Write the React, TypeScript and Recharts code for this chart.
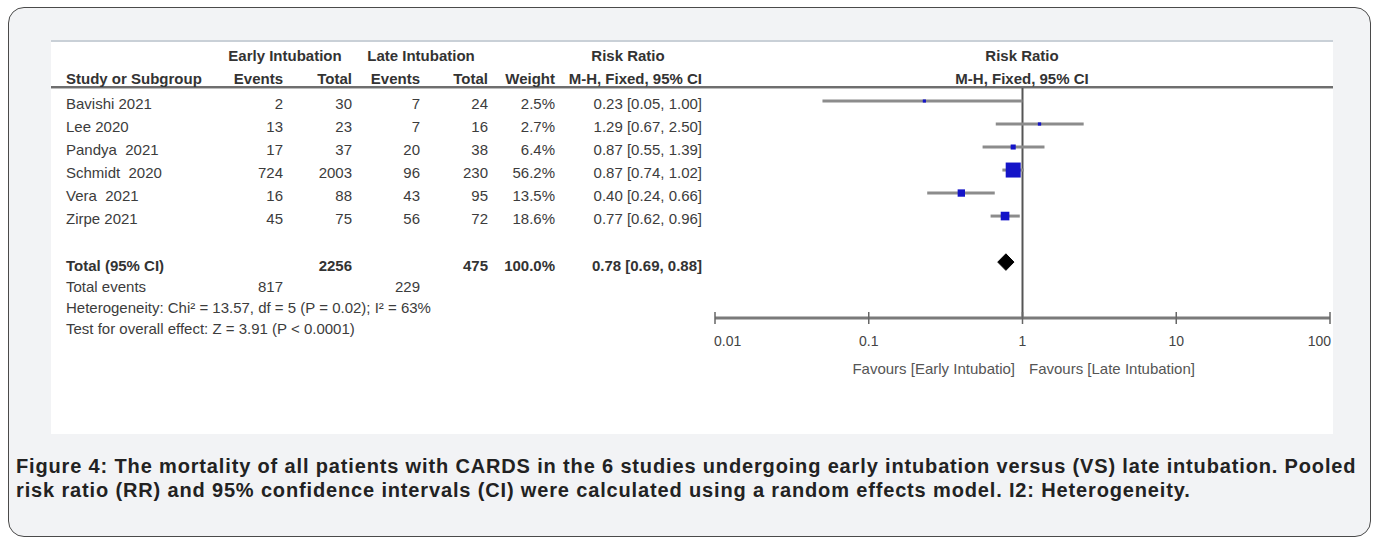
import React from "react";
import { ComposedChart, ReferenceLine, Scatter, XAxis, YAxis, ZAxis } from "recharts";

const studies = ["Bavishi 2021", "Lee 2020", "Pandya  2021", "Schmidt  2020", "Vera  2021", "Zirpe 2021"];
const earlyEvents = [2, 13, 17, 724, 16, 45];
const earlyTotal = [30, 23, 37, 2003, 88, 75];
const lateEvents = [7, 7, 20, 96, 43, 56];
const lateTotal = [24, 16, 38, 230, 95, 72];
const weights = [2.5, 2.7, 6.4, 56.2, 13.5, 18.6];
const riskRatio = [0.23, 1.29, 0.87, 0.87, 0.4, 0.77];
const ciLow = [0.05, 0.67, 0.55, 0.74, 0.24, 0.62];
const ciHigh = [1.0, 2.5, 1.39, 1.02, 0.66, 0.96];

const totalEarly = 2256;
const totalLate = 475;
const totalEventsEarly = 817;
const totalEventsLate = 229;
const totalRR = [0.78, 0.69, 0.88]; // estimate, low, high
const xTicks = [0.01, 0.1, 1, 10, 100];

const TOTAL_ROW = 8;
const DIAMOND_H = 0.36;

const squares = studies.map((s, i) => ({ name: s, x: riskRatio[i], y: i + 1, z: weights[i] }));
const diamond = [
  { x: totalRR[1], y: TOTAL_ROW },
  { x: totalRR[0], y: TOTAL_ROW - DIAMOND_H },
  { x: totalRR[2], y: TOTAL_ROW },
  { x: totalRR[0], y: TOTAL_ROW + DIAMOND_H },
  { x: totalRR[1], y: TOTAL_ROW },
];

const fmtCI = (e: number, l: number, h: number) => `${e.toFixed(2)} [${l.toFixed(2)}, ${h.toFixed(2)}]`;

const font = "'Liberation Sans', Arial, sans-serif";

function Txt({ x, y, children, align = "left", bold = false, color = "#3c3c3c" }: any) {
  // x is left edge for left align, right edge for right align, center for center
  const style: React.CSSProperties = {
    position: "absolute",
    top: y - 9,
    height: 18,
    lineHeight: "18px",
    fontSize: 15,
    fontWeight: bold ? 700 : 400,
    color,
    whiteSpace: "pre",
    fontFamily: font,
  };
  if (align === "left") style.left = x;
  else if (align === "right") style.right = 1378 - x;
  else {
    style.left = x - 200;
    style.width = 400;
    style.textAlign = "center";
  }
  return <div style={style}>{children}</div>;
}

function AxisTick({ x, y, payload, index }: any) {
  const last = xTicks.length - 1;
  const anchor = index === 0 ? "start" : index === last ? "end" : "middle";
  const tx = index === 0 ? x - 1 : index === last ? x + 1 : x;
  return (
    <g>
      <line x1={x} x2={x} y1={y - 6} y2={y + 6} stroke="#666" strokeWidth={1.5} />
      <text x={tx} y={y + 28} textAnchor={anchor} fontSize={14} fill="#444" fontFamily={font}>
        {payload.value}
      </text>
    </g>
  );
}

const rowY = [104, 127, 150, 173, 196, 219];
const col = { name: 66, eEv: 283, eTot: 352, lEv: 420, lTot: 488, weight: 555, ci: 702 };

export default function App() {
  return (
    <div style={{ position: "absolute", left: 0, top: 0, width: 1378, height: 538, overflow: "hidden", fontFamily: font }}>
      <div
        style={{
          position: "absolute",
          left: 8,
          top: 7,
          width: 1361,
          height: 528,
          border: "1.5px solid #4a4a4a",
          borderRadius: 16,
          background: "#f2f3f5",
        }}
      />
      <div
        style={{
          position: "absolute",
          left: 51,
          top: 40,
          width: 1282,
          height: 394,
          background: "#ffffff",
          borderTop: "2px solid #c9d0d7",
          boxSizing: "border-box",
        }}
      />
      {/* header separator */}
      <div style={{ position: "absolute", left: 51, top: 86, width: 1282, height: 0, borderTop: "2px solid #6e6e6e", borderBottom: "1px solid #bdbdbd" }} />

      {/* table headers */}
      <Txt x={285} y={56} align="center" bold color="#333">Early Intubation</Txt>
      <Txt x={421} y={56} align="center" bold color="#333">Late Intubation</Txt>
      <Txt x={628} y={56} align="center" bold color="#333">Risk Ratio</Txt>
      <Txt x={1022} y={56} align="center" bold color="#333">Risk Ratio</Txt>
      <Txt x={col.name} y={79} bold color="#333">Study or Subgroup</Txt>
      <Txt x={col.eEv} y={79} align="right" bold color="#333">Events</Txt>
      <Txt x={col.eTot} y={79} align="right" bold color="#333">Total</Txt>
      <Txt x={col.lEv} y={79} align="right" bold color="#333">Events</Txt>
      <Txt x={col.lTot} y={79} align="right" bold color="#333">Total</Txt>
      <Txt x={col.weight} y={79} align="right" bold color="#333">Weight</Txt>
      <Txt x={col.ci} y={79} align="right" bold color="#333">M-H, Fixed, 95% CI</Txt>
      <Txt x={1022} y={79} align="center" bold color="#333">M-H, Fixed, 95% CI</Txt>

      {studies.map((s, i) => (
        <React.Fragment key={s}>
          <Txt x={col.name} y={rowY[i]}>{s}</Txt>
          <Txt x={col.eEv} y={rowY[i]} align="right">{earlyEvents[i]}</Txt>
          <Txt x={col.eTot} y={rowY[i]} align="right">{earlyTotal[i]}</Txt>
          <Txt x={col.lEv} y={rowY[i]} align="right">{lateEvents[i]}</Txt>
          <Txt x={col.lTot} y={rowY[i]} align="right">{lateTotal[i]}</Txt>
          <Txt x={col.weight} y={rowY[i]} align="right">{weights[i].toFixed(1)}%</Txt>
          <Txt x={col.ci} y={rowY[i]} align="right">{fmtCI(riskRatio[i], ciLow[i], ciHigh[i])}</Txt>
        </React.Fragment>
      ))}

      <Txt x={col.name} y={266} bold color="#333">Total (95% CI)</Txt>
      <Txt x={col.eTot} y={266} align="right" bold color="#333">{totalEarly}</Txt>
      <Txt x={col.lTot} y={266} align="right" bold color="#333">{totalLate}</Txt>
      <Txt x={col.weight} y={266} align="right" bold color="#333">100.0%</Txt>
      <Txt x={col.ci} y={266} align="right" bold color="#333">{fmtCI(totalRR[0], totalRR[1], totalRR[2])}</Txt>
      <Txt x={col.name} y={287}>Total events</Txt>
      <Txt x={col.eEv} y={287} align="right">{totalEventsEarly}</Txt>
      <Txt x={col.lEv} y={287} align="right">{totalEventsLate}</Txt>
      <Txt x={col.name} y={308}>Heterogeneity: Chi² = 13.57, df = 5 (P = 0.02); I² = 63%</Txt>
      <Txt x={col.name} y={329}>Test for overall effect: Z = 3.91 (P &lt; 0.0001)</Txt>

      {/* forest plot */}
      <div style={{ position: "absolute", left: 690, top: 88 }}>
        <ComposedChart width={680} height={290} margin={{ top: 0, right: 40, bottom: 0, left: 25 }}>
          <XAxis
            type="number"
            dataKey="x"
            scale="log"
            domain={[0.01, 100]}
            ticks={xTicks}
            allowDataOverflow
            interval={0}
            height={60}
            tickSize={0}
            tickMargin={0}
            tickLine={false}
            axisLine={{ stroke: "#7a7a7a", strokeWidth: 3 }}
            tick={<AxisTick />}
          />
          <YAxis type="number" dataKey="y" hide reversed domain={[0.435, 10.43]} allowDataOverflow />
          <ZAxis type="number" dataKey="z" domain={[0, "dataMax"]} range={[0, 225]} />
          <ReferenceLine x={1} stroke="#555" strokeWidth={2} />
          {studies.map((s, i) => (
            <ReferenceLine
              key={s}
              segment={[
                { x: ciLow[i], y: i + 1 },
                { x: ciHigh[i], y: i + 1 },
              ]}
              stroke="#8c8c8c"
              strokeWidth={3}
            />
          ))}
          <Scatter data={squares} shape="square" fill="#1414c8" isAnimationActive={false} />
          <Scatter
            data={diamond}
            shape={() => <g />}
            line={{ stroke: "#000", fill: "#000", strokeWidth: 1 }}
            lineJointType="linear"
            isAnimationActive={false}
          />
        </ComposedChart>
      </div>
      <Txt x={1015} y={369} align="right" color="#555">Favours [Early Intubatio]</Txt>
      <Txt x={1029} y={369} color="#555">Favours [Late Intubation]</Txt>

      {/* caption */}
      <div
        style={{
          position: "absolute",
          left: 16,
          top: 454,
          fontSize: 20,
          letterSpacing: 0.85,
          lineHeight: "24px",
          fontWeight: 700,
          color: "#222",
          whiteSpace: "nowrap",
          fontFamily: font,
        }}
      >
        Figure 4: The mortality of all patients with CARDS in the 6 studies undergoing early intubation versus (VS) late intubation. Pooled
        <br />
        risk ratio (RR) and 95% confidence intervals (CI) were calculated using a random effects model. I2: Heterogeneity.
      </div>
    </div>
  );
}
